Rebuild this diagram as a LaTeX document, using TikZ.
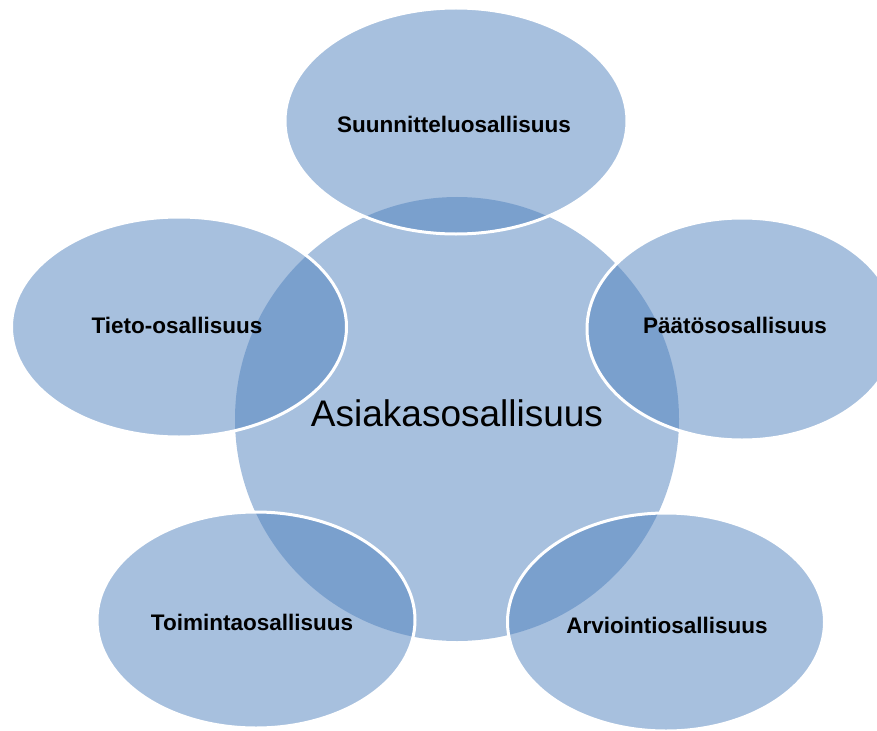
\documentclass[tikz,border=0pt]{standalone}
\usepackage{fontspec}
\setmainfont{Liberation Sans}
\usetikzlibrary{shapes.geometric}
\definecolor{petalblue}{HTML}{4F81BD}
\tikzset{
  petal/.style={ellipse, inner sep=0pt, fill=petalblue, fill opacity=0.5,
    draw=white, draw opacity=1, line width=3bp},
  hub/.style={circle, inner sep=0pt, fill=petalblue, fill opacity=0.5},
  petallabel/.style={inner sep=0pt, text=black,
    font=\bfseries\fontsize{22.5bp}{27bp}\selectfont},
  hublabel/.style={inner sep=0pt, text=black,
    font=\fontsize{37bp}{44bp}\selectfont}
}
\begin{document}
\begin{tikzpicture}[x=1bp, y=-1bp]
  \useasboundingbox (0,0) rectangle (877,731);
  \clip (0,0) rectangle (877,731);

  % central circle
  \node[hub, minimum size=444bp] (hub) at (457,419) {};

  % surrounding ellipses
  \node[petal, minimum width=342bp, minimum height=226bp] (plan) at (456,121) {};
  \node[petal, minimum width=335bp, minimum height=220bp] (info) at (179,327) {};
  \node[petal, minimum width=310bp, minimum height=222bp] (decide) at (742,329) {};
  \node[petal, minimum width=318bp, minimum height=216bp] (act) at (256,620) {};
  \node[petal, minimum width=317bp, minimum height=218bp] (assess) at (666,622) {};

  % labels
  \node[hublabel] (hubtext) at (457,413) {Asiakasosallisuus};
  \node[petallabel] (plantext) at (454,124) {Suunnitteluosallisuus};
  \node[petallabel] (infotext) at (177,325) {Tieto-osallisuus};
  \node[petallabel] (decidetext) at (735,325) {Päätösosallisuus};
  \node[petallabel] (acttext) at (252,622) {Toimintaosallisuus};
  \node[petallabel] (assesstext) at (667,625) {Arviointiosallisuus};
\end{tikzpicture}
\end{document}
